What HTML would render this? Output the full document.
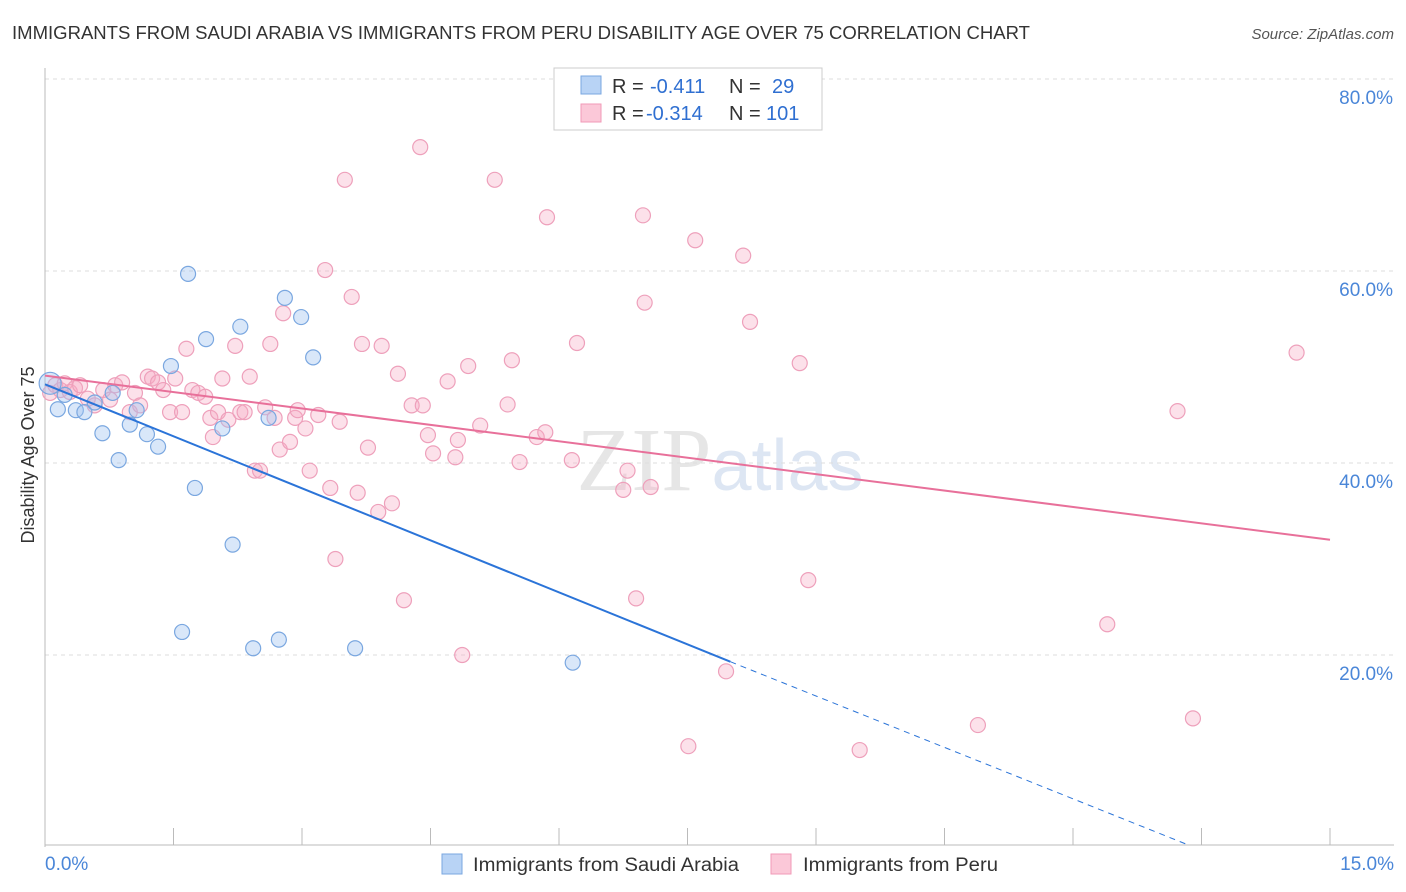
<!DOCTYPE html>
<html><head><meta charset="utf-8"><style>
body{margin:0;background:#fff;font-family:"Liberation Sans",sans-serif}
svg{display:block}
</style></head><body>
<svg id="chart" width="1406" height="892" xmlns="http://www.w3.org/2000/svg">
<text x="12" y="39" font-size="18" fill="#333" textLength="1018" lengthAdjust="spacingAndGlyphs">IMMIGRANTS FROM SAUDI ARABIA VS IMMIGRANTS FROM PERU DISABILITY AGE OVER 75 CORRELATION CHART</text>
<text x="1394" y="39" font-size="15" fill="#555" font-style="italic" text-anchor="end">Source: ZipAtlas.com</text>
<text x="720" y="490" font-size="90" fill="#e6e6e6" text-anchor="middle" font-family="Liberation Serif,serif">ZIP<tspan fill="#dde6f3" font-family="Liberation Sans,sans-serif" font-size="72">atlas</tspan></text>
<g id="grid"></g><g id="axes"></g><g id="marks"></g>
<text transform="translate(34,455) rotate(-90)" font-size="18" fill="#333" text-anchor="middle">Disability Age Over 75</text>
<g font-size="20">
<rect x="554" y="68" width="268" height="62" fill="#fff" stroke="#ccc"/>
<rect x="581" y="76" width="20" height="18" fill="#b8d3f5" stroke="#7aa7e0"/>
<rect x="581" y="104" width="20" height="18" fill="#fbc8d8" stroke="#f09ab7"/>
<text x="612" y="93" fill="#333">R =</text><text x="650" y="93" fill="#2f6fd1">-0.411</text>
<text x="729" y="93" fill="#333">N =</text><text x="772" y="93" fill="#2f6fd1">29</text>
<text x="612" y="120" fill="#333">R =</text><text x="646" y="120" fill="#2f6fd1">-0.314</text>
<text x="729" y="120" fill="#333">N =</text><text x="766" y="120" fill="#2f6fd1">101</text>
</g>
<g>
<rect x="442" y="854" width="20" height="20" fill="#b8d3f5" stroke="#7aa7e0"/>
<text x="473" y="871" font-size="19" fill="#333" textLength="266" lengthAdjust="spacingAndGlyphs">Immigrants from Saudi Arabia</text>
<rect x="771" y="854" width="20" height="20" fill="#fbc8d8" stroke="#f09ab7"/>
<text x="803" y="871" font-size="19" fill="#333" textLength="195" lengthAdjust="spacingAndGlyphs">Immigrants from Peru</text>
</g>
</svg>
<script>
const yTicks=[20,40,60,80];
const yTickLabels=["20.0%","40.0%","60.0%","80.0%"];
const xTickCount=10;
const xTickLabels=["0.0%","15.0%"];
const blueX=[0.06,0.15,0.36,0.46,0.58,0.67,0.79,0.86,0.99,1.07,1.19,1.32,1.47,1.60,1.67,1.75,1.88,2.07,2.19,2.28,2.43,2.61,2.73,2.80,2.99,3.13,3.62,6.16,0.23];
const blueY=[48.3,45.6,45.5,45.3,46.3,43.1,47.3,40.3,44.0,45.5,43.0,41.7,50.1,22.4,59.7,37.4,52.9,43.6,31.5,54.2,20.7,44.7,21.6,57.2,55.2,51.0,20.7,19.2,47.1];
const pinkX=[0.06,0.12,0.18,0.23,0.29,0.35,0.41,0.50,0.58,0.68,0.76,0.82,0.90,0.99,1.05,1.11,1.20,1.25,1.32,1.38,1.46,1.52,1.60,1.65,1.72,1.79,1.87,1.93,1.96,2.02,2.07,2.14,2.22,2.28,2.33,2.39,2.45,2.51,2.57,2.63,2.68,2.74,2.78,2.86,2.92,2.95,3.04,3.09,3.19,3.27,3.33,3.39,3.44,3.50,3.58,3.65,3.70,3.77,3.89,3.93,4.05,4.12,4.19,4.28,4.38,4.41,4.47,4.53,4.70,4.79,4.82,4.87,4.94,5.08,5.25,5.40,5.45,5.54,5.74,5.84,5.86,6.15,6.21,6.75,6.80,6.90,6.98,7.00,7.07,7.51,7.59,7.95,8.15,8.23,8.81,8.91,9.51,10.89,12.40,13.22,13.40,14.61];
const pinkY=[47.3,48.1,47.6,48.3,47.4,47.8,48.1,46.7,46.0,47.6,46.6,48.1,48.4,45.3,47.3,46.0,49.0,48.8,48.4,47.6,45.3,48.8,45.3,51.9,47.6,47.3,46.9,44.7,42.7,45.3,48.8,44.5,52.2,45.3,45.3,49.0,39.2,39.2,45.8,52.4,44.7,41.4,55.6,42.2,44.7,45.5,43.6,39.2,45.0,60.1,37.4,30.0,44.3,69.5,57.3,36.9,52.4,41.6,34.9,52.2,35.8,49.3,25.7,46.0,72.9,46.0,42.9,41.0,48.5,40.6,42.4,20.0,50.1,43.9,69.5,46.1,50.7,40.1,42.7,43.2,65.6,40.3,52.5,37.2,39.2,25.9,65.8,56.7,37.5,10.5,63.2,18.3,61.6,54.7,50.4,27.8,10.1,12.7,23.2,45.4,13.4,51.5];
const blueLine=[0,48.2,8.0,19.3,13.35,0.2];
const pinkLine=[0,49.1,15,32.0];
const NS="http://www.w3.org/2000/svg";
const X0=45,X1=1330,Y0=847,Ytop=79;
function sx(v){return X0+(X1-X0)*v/15;}
function sy(v){return Y0-(Y0-Ytop)*v/80;}
function mk(tag,attrs,parent){const e=document.createElementNS(NS,tag);for(const k in attrs)e.setAttribute(k,attrs[k]);document.getElementById(parent).appendChild(e);return e;}
yTicks.forEach((t,i)=>{
 const g=mk("line",{x1:45,x2:1394,y1:sy(t),y2:sy(t),stroke:"#ddd","stroke-dasharray":"4,4"},"grid");
 
 
 const l=mk("text",{x:1393,y:sy(t)+25,"font-size":19,fill:"#4a86d8","text-anchor":"end"},"axes");
 l.textContent=yTickLabels[i];
 
 
});
const tl=mk("line",{x1:45,x2:1394,y1:Ytop,y2:Ytop,stroke:"#ddd","stroke-dasharray":"4,4"},"grid");


const ya=mk("line",{x1:45,x2:45,y1:68,y2:847,stroke:"#bbb"},"axes");


const xa=mk("line",{x1:45,x2:1394,y1:845,y2:845,stroke:"#bbb"},"axes");


for(let i=0;i<=xTickCount;i++){
 const t=mk("line",{x1:sx(i*1.5),x2:sx(i*1.5),y1:828,y2:845,stroke:"#bbb"},"axes");
 
 
}
const xl0=mk("text",{x:45,y:870,"font-size":19,fill:"#4a86d8"},"axes");xl0.textContent=xTickLabels[0];


const xl1=mk("text",{x:1394,y:870,"font-size":19,fill:"#4a86d8","text-anchor":"end"},"axes");xl1.textContent=xTickLabels[1];


pinkX.forEach((x,i)=>{
 const c=mk("circle",{cx:sx(x),cy:sy(pinkY[i]),r:7.5,fill:"rgba(246,170,196,0.35)",stroke:"#eea0bb","stroke-width":1.2},"marks");
 
 
});
blueX.forEach((x,i)=>{
 const c=mk("circle",{cx:sx(x),cy:sy(blueY[i]),r:i==0?11:7.5,fill:"rgba(160,195,240,0.4)",stroke:"#7aa7e0","stroke-width":1.2},"marks");
 
 
});
const pl=mk("line",{x1:sx(pinkLine[0]),y1:sy(pinkLine[1]),x2:sx(pinkLine[2]),y2:sy(pinkLine[3]),stroke:"#e8709a","stroke-width":2},"marks");


const bl=mk("line",{x1:sx(blueLine[0]),y1:sy(blueLine[1]),x2:sx(blueLine[2]),y2:sy(blueLine[3]),stroke:"#2b74d8","stroke-width":2},"marks");


const bd=mk("line",{x1:sx(blueLine[2]),y1:sy(blueLine[3]),x2:sx(blueLine[4]),y2:sy(blueLine[5]),stroke:"#2b74d8","stroke-width":1,"stroke-dasharray":"6,5"},"marks");


</script>
</body></html>
